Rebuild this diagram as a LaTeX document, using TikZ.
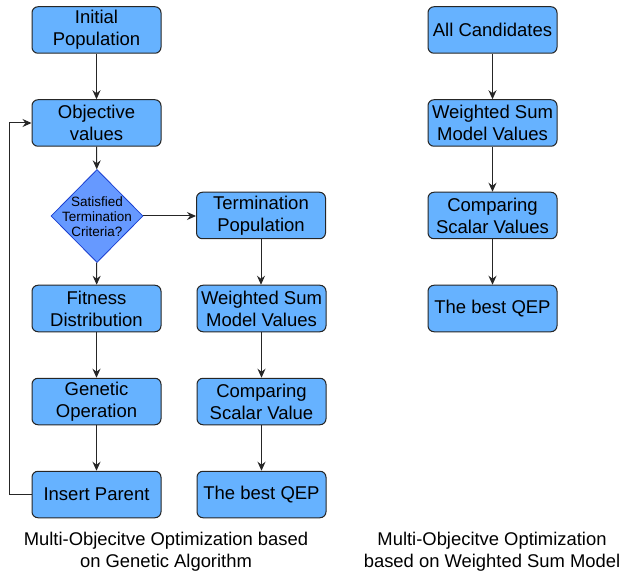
\documentclass[tikz,border=0pt]{standalone}
\usepackage{fontspec}
\setmainfont{Liberation Sans}
\usetikzlibrary{shapes.geometric,arrows.meta}
\definecolor{boxfill}{HTML}{66B2FF}
\definecolor{diafill}{HTML}{6699FF}
\definecolor{diaedge}{HTML}{1B3FD0}
\definecolor{edgecol}{HTML}{262626}
\tikzset{
  stepbox/.style={draw=edgecol, fill=boxfill, line width=1pt, rounded corners=6pt,
    minimum width=129pt, minimum height=46.5pt, inner sep=0pt, align=center,
    font=\fontsize{18.5}{22}\selectfont},
  dia/.style={draw=diaedge, fill=diafill, line width=0.8pt, diamond, inner sep=0pt,
    minimum width=92pt, minimum height=93pt},
  dialabel/.style={align=center, inner sep=0pt, font=\fontsize{13.5}{15}\selectfont},
  arr/.style={draw=edgecol, line width=1pt, -{Stealth[length=9pt,width=8pt,inset=3pt]}},
  captext/.style={align=center, inner sep=0pt, font=\fontsize{18.4}{22}\selectfont}
}
\begin{document}
\begin{tikzpicture}[x=1pt,y=-1pt]
\useasboundingbox (0,0) rectangle (621,577);
% left column
\node[stepbox] (init) at (96.5,30) {Initial\\Population};
\node[stepbox] (obj) at (96.5,123) {Objective\\values};
\node[dia] (dec) at (97,216) {};
\node[dialabel] (decl) at (97,216.5) {Satisfied\\Termination\\Criteria?};
\node[stepbox] (term) at (261,215.5) {Termination\\Population};
\node[stepbox] (fit) at (96.5,308.5) {Fitness\\Distribution};
\node[stepbox] (gen) at (96.5,401.5) {Genetic\\Operation};
\node[stepbox] (ins) at (96.5,494.5) {Insert Parent};
\node[stepbox] (wsm) at (261.5,308.5) {Weighted Sum\\Model Values};
\node[stepbox] (cmp) at (261.5,401.5) {Comparing\\Scalar Value};
\node[stepbox] (best) at (261.5,494.5) {The best QEP};
% right column
\node[stepbox] (r1) at (492.5,30) {All Candidates};
\node[stepbox] (r2) at (492.5,123) {Weighted Sum\\Model Values};
\node[stepbox] (r3) at (492.5,215.5) {Comparing\\Scalar Values};
\node[stepbox] (r4) at (492.5,308.5) {The best QEP};
% captions
\node[captext] (capl) at (166,552) {Multi-Objecitve Optimization based\\on Genetic Algorithm};
\node[captext] (capr) at (492,552) {Multi-Objecitve Optimization\\based on Weighted Sum Model};
% connectors
\draw[arr] (init) -- (obj);
\draw[arr] (obj) -- (dec);
\draw[arr] (dec.east) -- (term.west |- dec.east);
\draw[arr] (dec) -- (fit);
\draw[arr] (fit) -- (gen);
\draw[arr] (gen) -- (ins);
\draw[arr] (ins.west) -- ++(-22,0) |- (obj.west);
\draw[arr] (term) -- (term |- wsm.north);
\draw[arr] (wsm) -- (cmp);
\draw[arr] (cmp) -- (best);
\draw[arr] (r1) -- (r2);
\draw[arr] (r2) -- (r3);
\draw[arr] (r3) -- (r4);
\end{tikzpicture}
\end{document}
